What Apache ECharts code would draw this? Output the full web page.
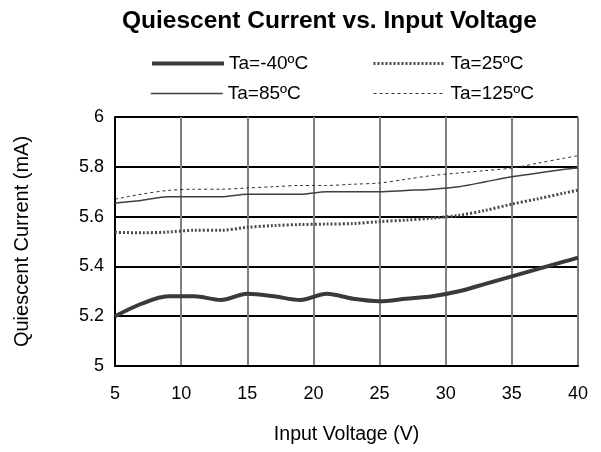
<!DOCTYPE html>
<html><head><meta charset="utf-8">
<script src="https://cdn.jsdelivr.net/npm/echarts@6/dist/echarts.min.js"></script>
<style>html,body{margin:0;padding:0;background:#fff}#c{width:601px;height:452px}</style>
</head><body><div id="c"></div>
<script>
const voltages = [5,7,9,11,13,15,17,19,21,23,25,27,29,31,33,35,37,39,40];
const seriesNames = ['Ta=-40ºC','Ta=25ºC','Ta=85ºC','Ta=125ºC'];
const tm40 = [5.20,5.25,5.28,5.28,5.265,5.29,5.28,5.265,5.29,5.27,5.26,5.27,5.28,5.30,5.33,5.36,5.39,5.42,5.435];
const t25 = [5.537,5.535,5.538,5.545,5.545,5.557,5.564,5.568,5.57,5.572,5.58,5.586,5.594,5.605,5.625,5.65,5.672,5.695,5.706];
const t85 = [5.655,5.665,5.68,5.68,5.68,5.69,5.69,5.69,5.70,5.70,5.70,5.705,5.71,5.72,5.74,5.76,5.775,5.79,5.795];
const t125 = [5.67,5.69,5.705,5.71,5.71,5.715,5.72,5.725,5.725,5.73,5.735,5.75,5.765,5.775,5.785,5.795,5.815,5.835,5.845];
const xTicks = [5,10,15,20,25,30,35,40];
const yTicks = [5,5.2,5.4,5.6,5.8,6];

const pair = arr => voltages.map((v,i)=>[v,arr[i]]);
const font = 'Liberation Sans, Arial, sans-serif';
const styles = [
  {color:'#3a3a3a', width:4, type:'solid'},
  {color:'#4a4a4a', width:3, type:[2,2]},
  {color:'#404040', width:1.5, type:'solid'},
  {color:'#303030', width:1, type:[3,3]}
];
const datas = [tm40,t25,t85,t125];
const legendPos = [[150,54],[372,54],[150,84],[373,84]];

const chart = echarts.init(document.getElementById('c'), null, {renderer:'canvas'});
chart.setOption({
  animation:false,
  backgroundColor:'#fff',
  title:{text:'Quiescent Current vs. Input Voltage', left:117, top:4,
    textStyle:{fontFamily:font, fontSize:24.5, fontWeight:'bold', color:'#000'}},
  legend: seriesNames.map((n,i)=>({data:[n], left:legendPos[i][0], top:legendPos[i][1],
    padding:0, itemWidth:72, itemHeight:18, itemGap:6,
    itemStyle:{opacity:0},
    lineStyle:{color:styles[i].color, width:styles[i].width, type:styles[i].type, inactiveWidth:styles[i].width},
    textStyle:{fontFamily:font, fontSize:19, color:'#000', padding:[0,0,0,0]}})),
  grid:{left:115, right:23, top:117, bottom:86},
  xAxis:{type:'value', min:5, max:40, interval:5,
    name:'Input Voltage (V)', nameLocation:'middle', nameGap:59, nameMoveOverlap:false,
    nameTextStyle:{fontFamily:font, fontSize:19.5, color:'#000'},
    axisLine:{show:true, lineStyle:{color:'#000', width:2}},
    axisTick:{show:false},
    axisLabel:{fontFamily:font, fontSize:18, color:'#000', margin:19,
      customValues: xTicks},
    splitLine:{show:true, lineStyle:{color:'#808080', width:2}}},
  yAxis:{type:'value', min:5, max:6, interval:0.2,
    name:'Quiescent Current (mA)', nameLocation:'middle', nameGap:83, nameRotate:90, nameMoveOverlap:false,
    nameTextStyle:{fontFamily:font, fontSize:20, color:'#000'},
    axisLine:{show:true, lineStyle:{color:'#000', width:2}},
    axisTick:{show:false},
    axisLabel:{fontFamily:font, fontSize:18, color:'#000', margin:11,
      formatter: v => { const t = yTicks.find(x=>Math.abs(x-v)<1e-6); return t===undefined?'':String(t); }},
    splitLine:{show:true, lineStyle:{color:'#000', width:2}}},
  series: seriesNames.map((n,i)=>({name:n, type:'line', data:pair(datas[i]),
    symbol:'none', smooth:0.3, lineStyle:styles[i], itemStyle:{color:styles[i].color}, z:5+i}))
});
</script></body></html>
